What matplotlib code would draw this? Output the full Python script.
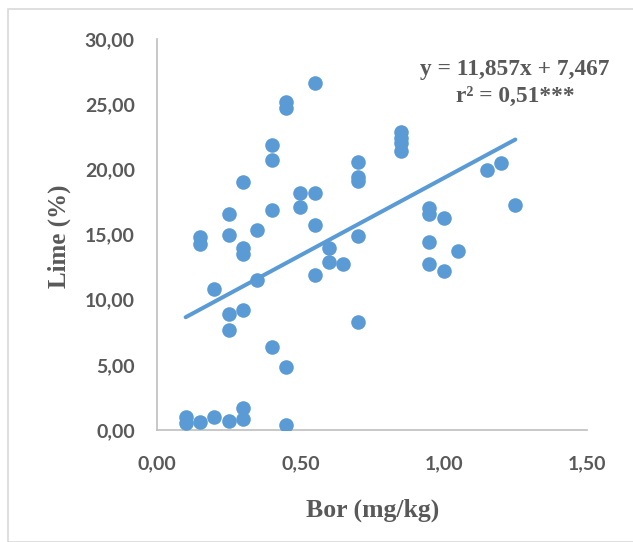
import matplotlib
matplotlib.use("Agg")
import matplotlib.pyplot as plt
from matplotlib.patches import Rectangle

# Data (Bor mg/kg vs Lime %)
bor = [0.55, 0.45, 0.45, 0.40, 0.40, 0.30, 0.25, 0.25, 0.15, 0.15,
       0.35, 0.30, 0.30, 0.40, 0.50, 0.50, 0.55, 0.55, 0.60, 0.60,
       0.65, 0.55, 0.70, 0.70, 0.70, 0.70, 0.70, 0.35, 0.20, 0.25,
       0.30, 0.25, 0.40, 0.45, 0.10, 0.10, 0.15, 0.20, 0.25, 0.30,
       0.30, 0.45, 0.85, 0.85, 0.85, 0.85, 1.15, 1.20, 1.25, 0.95,
       0.95, 1.00, 0.95, 1.05, 0.95, 1.00]
lime = [26.6, 25.2, 24.7, 21.9, 20.7, 19.0, 16.6, 15.0, 14.8, 14.3,
        15.35, 14.0, 13.5, 16.9, 18.2, 17.1, 18.2, 15.7, 13.95, 12.9,
        12.7, 11.9, 20.6, 19.45, 19.1, 14.9, 8.3, 11.5, 10.8, 8.9,
        9.2, 7.7, 6.4, 4.8, 1.0, 0.5, 0.6, 1.0, 0.7, 1.7,
        0.85, 0.4, 22.9, 22.4, 22.0, 21.4, 19.95, 20.5, 17.3, 17.0,
        16.6, 16.3, 14.4, 13.7, 12.7, 12.2]

slope = 11.857
intercept = 7.467
x_fit = [0.10, 1.25]

x_ticks = [0.0, 0.5, 1.0, 1.5]
y_ticks = [0, 5, 10, 15, 20, 25, 30]
x_ticklabels = ["0,00", "0,50", "1,00", "1,50"]
y_ticklabels = ["0,00", "5,00", "10,00", "15,00", "20,00", "25,00", "30,00"]

W, H = 633, 542
fig = plt.figure(figsize=(W / 100, H / 100), dpi=100)
fig.patch.set_facecolor("white")

# outer chart border
fig.patches.append(Rectangle((8 / W, 0), 1.2, 1 - 9 / H, transform=fig.transFigure,
                             fill=False, edgecolor="#d9d9d9", linewidth=1.2))

ax = fig.add_axes([157 / W, 1 - 430 / H, (587 - 157) / W, (430 - 39) / H])
blue = "#5B9BD5"
ax.scatter(bor, lime, s=110, color=blue, zorder=3, linewidths=0)
y_fit = [slope * v + intercept for v in x_fit]
ax.plot(x_fit, y_fit, color=blue, linewidth=2.9, solid_capstyle="round", zorder=2)

ax.set_xlim(0, 1.5)
ax.set_ylim(0, 30)
ax.set_xticks(x_ticks)
ax.set_xticklabels(x_ticklabels)
ax.set_yticks(y_ticks)
ax.set_yticklabels(y_ticklabels)
for s in ["top", "right"]:
    ax.spines[s].set_visible(False)
for s in ["left", "bottom"]:
    ax.spines[s].set_color("#bfbfbf")
    ax.spines[s].set_linewidth(1.2)
ax.tick_params(length=0, colors="#595959")
ax.tick_params(axis="y", pad=16)
ax.tick_params(axis="x", pad=18)
for lab in ax.get_xticklabels() + ax.get_yticklabels():
    lab.set_fontfamily("Lato")
    lab.set_fontweight("bold")
    lab.set_fontsize(14)
    lab.set_color("#595959")

serif = "Liberation Serif"
fig.text(373 / W, 1 - 510 / H, "Bor (mg/kg)", ha="center", va="center",
         fontfamily=serif, fontweight="bold", fontsize=18.5, color="#595959")
fig.text(59 / W, 1 - 236 / H, "Lime (%)", ha="center", va="center", rotation=90,
         fontfamily=serif, fontweight="bold", fontsize=18, color="#595959")
fig.text(515 / W, 1 - 70 / H, "y = 11,857x + 7,467", ha="center", va="center",
         fontfamily=serif, fontweight="bold", fontsize=16.8, color="#595959")
fig.text(515 / W, 1 - 96 / H, "r² = 0,51***", ha="center", va="center",
         fontfamily=serif, fontweight="bold", fontsize=16.8, color="#595959")

fig.savefig("out.png", dpi=100)
